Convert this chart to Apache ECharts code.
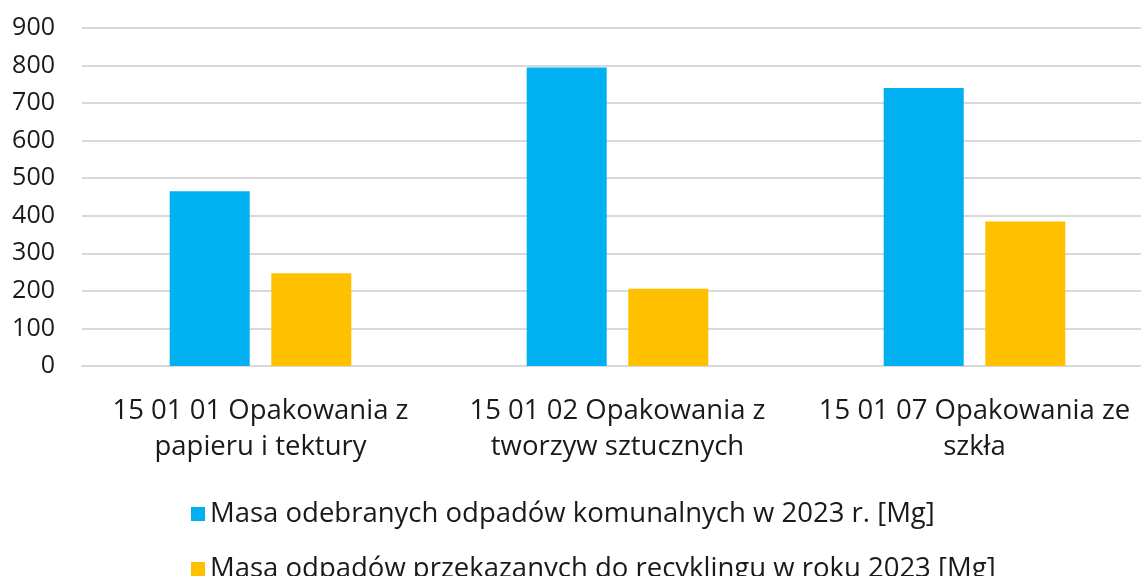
<!DOCTYPE html>
<html>
<head>
<meta charset="utf-8">
<script src="https://cdn.jsdelivr.net/npm/echarts@6/dist/echarts.min.js"></script>
<style>
html,body{margin:0;padding:0;background:#fff;overflow:hidden;}
#chartmain{width:1160px;height:576px;}
</style>
</head>
<body>
<div id="chartmain"></div>
<script>
// dane
var categories = ["15 01 01 Opakowania z\npapieru i tektury", "15 01 02 Opakowania z\ntworzyw sztucznych", "15 01 07 Opakowania ze\nszkła"];
var seriesNames = ["Masa odebranych odpadów komunalnych w 2023 r. [Mg]", "Masa odpadów przekazanych do recyklingu w roku 2023 [Mg]"];
var odebrane = [465, 795, 740];
var recykling = [247, 206, 385];
var yTicks = [0, 900, 100]; // min, max, interval

var font = 'Open Sans';
var txt = '#1a1a1a';
var myChart = echarts.init(document.getElementById('chartmain'));

// jedna legenda na pozycję, żeby ułożyć je jedna pod drugą
function legendItem(name, top) {
    return {
        data: [name],
        left: 186,
        top: top,
        itemWidth: 14,
        itemHeight: 14,
        itemGap: 6,
        icon: 'rect',
        textStyle: { fontFamily: font, fontSize: 27.5, color: txt }
    };
}

var option = {
    animation: false,
    textStyle: { fontFamily: font },
    grid: { left: 82, top: 28, width: 1071, bottom: 210, containLabel: false },
    legend: [legendItem(seriesNames[0], 495), legendItem(seriesNames[1], 550)],
    xAxis: {
        type: 'category',
        data: categories,
        axisLine: { lineStyle: { color: '#d9d9d9', width: 2 } },
        axisTick: { show: false },
        axisLabel: { interval: 0, fontFamily: font, fontSize: 27.5, color: txt, lineHeight: 36, margin: 27 }
    },
    yAxis: {
        type: 'value',
        min: yTicks[0],
        max: yTicks[1],
        interval: yTicks[2],
        axisLine: { show: false },
        axisTick: { show: false },
        splitLine: { lineStyle: { color: '#d9d9d9', width: 2 } },
        axisLabel: { fontFamily: font, fontSize: 25, color: txt, margin: 27 }
    },
    series: [{
        name: seriesNames[0],
        type: 'bar',
        data: odebrane,
        barWidth: 80,
        barGap: '27%',
        itemStyle: { color: '#00b0f0' }
    }, {
        name: seriesNames[1],
        type: 'bar',
        data: recykling,
        barWidth: 80,
        itemStyle: { color: '#ffc000' }
    }]
};

myChart.setOption(option);
</script>
</body>
</html>
